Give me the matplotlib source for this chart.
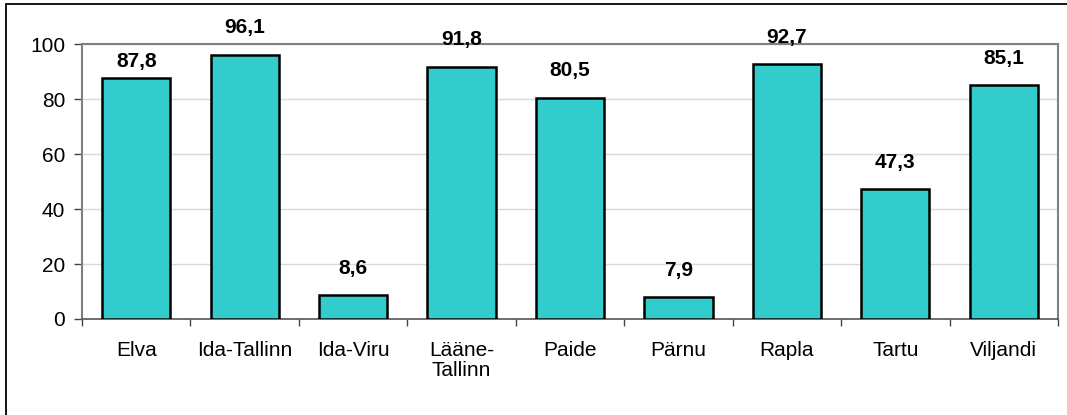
import matplotlib
matplotlib.use("Agg")
import matplotlib.pyplot as plt
from matplotlib.patches import Rectangle
import numpy as np

plt.rcParams["font.family"] = ["Liberation Sans", "DejaVu Sans"]

categories = ["Elva", "Ida-Tallinn", "Ida-Viru", "Lääne-\nTallinn", "Paide",
              "Pärnu", "Rapla", "Tartu", "Viljandi"]
values = [87.8, 96.1, 8.6, 91.8, 80.5, 7.9, 92.7, 47.3, 85.1]
y_ticks = [0, 20, 40, 60, 80, 100]

# gap between bar top and its value label, in points (Elva sits closer in the original)
label_gap = [5, 12.5, 12.5, 12.5, 12.5, 12.5, 12.5, 12.5, 12.5]

W, H = 1067, 415
fig = plt.figure(figsize=(W / 100, H / 100), dpi=100)

# outer frame of the chart
fig.patches.append(Rectangle((6 / W, -0.01), 1.02, (H - 4) / H + 0.01,
                             transform=fig.transFigure, fill=False,
                             edgecolor="black", linewidth=1.3))

left, top, right, bottom = 82, 44, 1058, 319
ax = fig.add_axes([left / W, 1 - bottom / H, (right - left) / W, (bottom - top) / H])

x = np.arange(len(categories))
ax.bar(x, values, width=0.63, color="#33CCCC", edgecolor="black", linewidth=1.8, zorder=3)

for xi, v, g in zip(x, values, label_gap):
    ax.annotate(f"{v:.1f}".replace(".", ","), (xi, v), xytext=(0, g),
                textcoords="offset points", ha="center", va="bottom",
                fontsize=15, fontweight="bold", annotation_clip=False, zorder=5)

ax.set_xlim(-0.5, len(categories) - 0.5)
ax.set_ylim(0, 100)
ax.set_yticks(y_ticks)
ax.tick_params(axis="y", labelsize=15, length=6, width=1, color="#444444", pad=6)
ax.yaxis.grid(True, color="#d9d9d9", linewidth=1, zorder=0)

ax.set_xticks(x)
ax.set_xticklabels(categories, fontsize=15, va="top", linespacing=1.05)
ax.set_xticks(np.arange(-0.5, len(categories)), minor=True)
ax.tick_params(axis="x", which="major", length=0, pad=16)
ax.tick_params(axis="x", which="minor", length=5, width=1, color="#444444")

for side in ["top", "right"]:
    ax.spines[side].set_color("#808080")
    ax.spines[side].set_linewidth(1.5)
ax.spines["left"].set_color("#808080")
ax.spines["left"].set_linewidth(1.5)
ax.spines["bottom"].set_color("#555555")
ax.spines["bottom"].set_linewidth(1.2)

plt.savefig("out.png", dpi=100)
plt.close()
